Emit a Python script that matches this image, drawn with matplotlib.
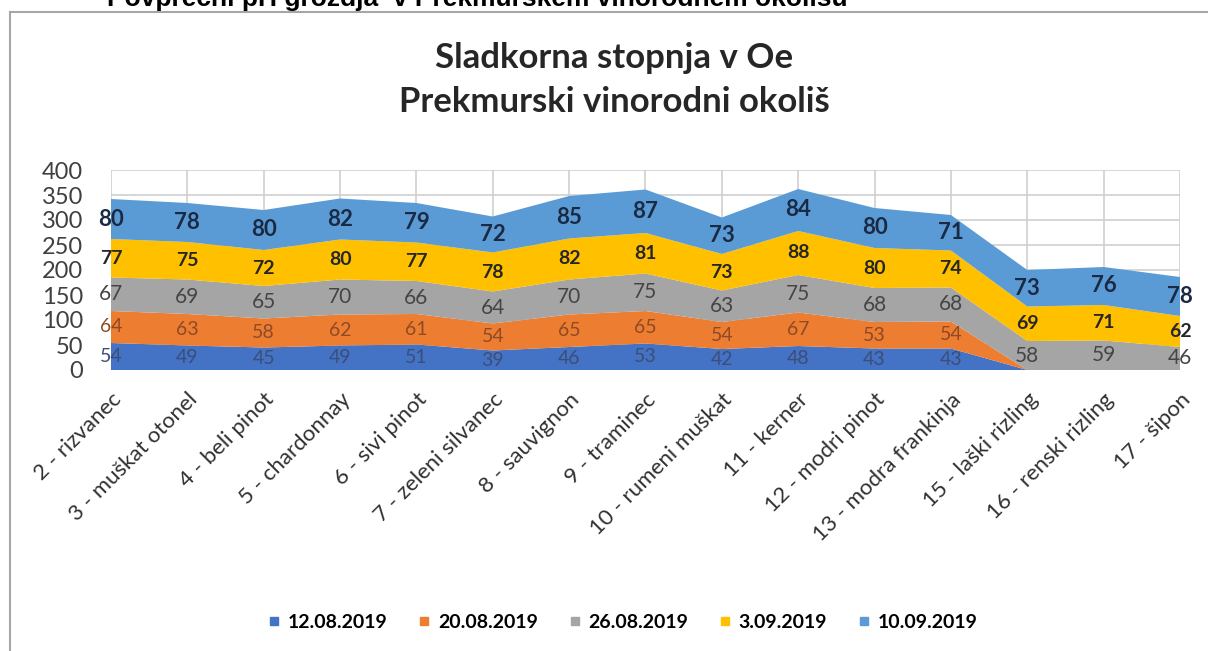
import numpy as np
import matplotlib
matplotlib.use('Agg')
import matplotlib.pyplot as plt
from matplotlib.lines import Line2D

categories = ['2 - rizvanec', '3 - muškat otonel', '4 - beli pinot', '5 - chardonnay',
              '6 - sivi pinot', '7 - zeleni silvanec', '8 - sauvignon', '9 - traminec',
              '10 - rumeni muškat', '11 - kerner', '12 - modri pinot', '13 - modra frankinja',
              '15 - laški rizling', '16 - renski rizling', '17 - šipon']
dates = ['12.08.2019', '20.08.2019', '26.08.2019', '3.09.2019', '10.09.2019']
s1208 = [54, 49, 45, 49, 51, 39, 46, 53, 42, 48, 43, 43, 0, 0, 0]
s2008 = [64, 63, 58, 62, 61, 54, 65, 65, 54, 67, 53, 54, 0, 0, 0]
s2608 = [67, 69, 65, 70, 66, 64, 70, 75, 63, 75, 68, 68, 58, 59, 46]
s0309 = [77, 75, 72, 80, 77, 78, 82, 81, 73, 88, 80, 74, 69, 71, 62]
s1009 = [80, 78, 80, 82, 79, 72, 85, 87, 73, 84, 80, 71, 73, 76, 78]

series = [s1208, s2008, s2608, s0309, s1009]
colors = ['#4472C4', '#ED7D31', '#A5A5A5', '#FFC000', '#5B9BD5']
labelColors = ['#3B4E78', '#8E4A26', '#454545', '#262626', '#1A2A44']
labelWeights = ['normal', 'normal', 'normal', 'bold', 'bold']
labelSizes = [14, 14, 15, 14, 16]

plt.rcParams['font.family'] = ['Lato', 'DejaVu Sans']

W, H = 1208, 651
fig = plt.figure(figsize=(W / 100, H / 100), dpi=100)
fig.patch.set_facecolor('white')

left, right, top, bottom = 111, 1180, 170, 370
ax = fig.add_axes([left / W, 1 - bottom / H, (right - left) / W, (bottom - top) / H])

x = np.arange(len(categories))
ax.stackplot(x, *series, colors=colors, linewidth=0, zorder=2)

# data labels in the middle of each band
base = np.zeros(len(categories))
for k, vals in enumerate(series):
    vals = np.array(vals)
    for i, v in enumerate(vals):
        if v > 0:
            ax.text(x[i], base[i] + v / 2, str(v), ha='center', va='center',
                    fontsize=labelSizes[k], color=labelColors[k],
                    fontweight=labelWeights[k], zorder=5, clip_on=False)
    base += vals

ax.set_xlim(0, len(categories) - 1)
ax.set_ylim(0, 400)
ax.set_yticks(np.arange(0, 401, 50))
ax.set_xticks(x)
ax.set_xticklabels(categories, rotation=45, ha='right', rotation_mode='anchor',
                   fontsize=16, color='#303030')
ax.tick_params(axis='y', length=0, pad=20, labelsize=17, labelcolor='#404040')
ax.tick_params(axis='x', length=0, pad=14)
ax.grid(True, color='#CFCFCF', linewidth=1.2, zorder=0)
ax.set_axisbelow(True)
for sp in ax.spines.values():
    sp.set_visible(False)

# legend
handles = [Line2D([], [], marker='s', linestyle='none', markersize=6,
                  markerfacecolor=c, markeredgecolor=c) for c in colors]
fig.legend(handles, dates, loc='center', bbox_to_anchor=(622 / W, 1 - 622 / H),
           ncol=5, frameon=False, handletextpad=0.3, columnspacing=1.5,
           handlelength=0.8, prop={'size': 14, 'weight': 'bold'})

# chart title
fig.text(614 / W, 1 - 58 / H, 'Sladkorna stopnja v Oe', ha='center', va='center',
         fontsize=25, color='#262626', fontweight='bold')
fig.text(614 / W, 1 - 102 / H, 'Prekmurski vinorodni okoliš', ha='center', va='center',
         fontsize=25, color='#262626', fontweight='bold')

# cut-off heading of the page above the chart box
fig.text(107 / W, 1 - 6 / H, 'Povprečni pH grozdja  v Prekmurskem vinorodnem okolišu',
         ha='left', va='baseline', fontsize=19, fontweight='bold', color='black',
         family=['Liberation Sans Narrow', 'Liberation Sans'])

# chart box border
fig.add_artist(Line2D([10 / W, 1], [1 - 12 / H, 1 - 12 / H], color='#A6A6A6', linewidth=1.5))
fig.add_artist(Line2D([10 / W, 10 / W], [0, 1 - 12 / H], color='#A6A6A6', linewidth=1.5))

fig.savefig('out.png', dpi=100)
